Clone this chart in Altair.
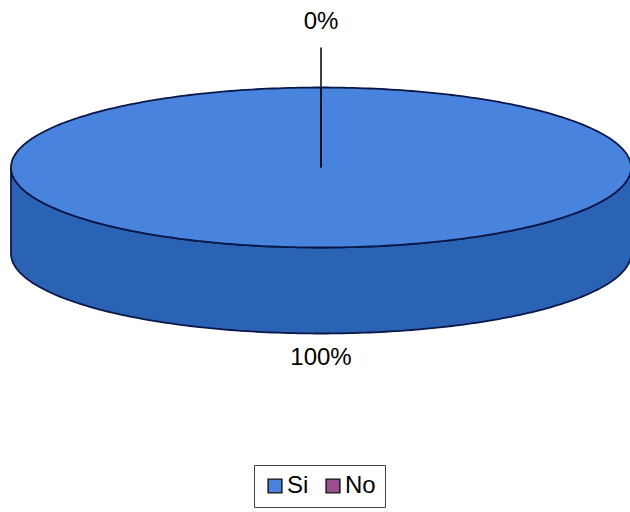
import math
import altair as alt
import pandas as pd

# ---- data ----
categories = ["Si", "No"]
values = [100, 0]
labels = ["100%", "0%"]

# ---- style / layout ----
TOP_COLORS = ["#4884DE", "#9A4E8E"]
SIDE_COLORS = ["#2A63B4", "#6E2E63"]
OUTLINE = "#0A1748"
W, H = 630, 512
CX, CY, RX, RY, DEPTH = 321, 167.5, 310, 80, 86
LABEL_GAP = {"Si": 24, "No": 66}
FONT = "Liberation Sans"

total = sum(values)


def pt(theta_deg, dy=0.0):
    t = math.radians(theta_deg)
    return CX + RX * math.sin(t), CY - RY * math.cos(t) + dy


top_rows, side_rows, label_rows, leader_rows = [], [], [], []
start = 0.0
for cat, val, lab in zip(categories, values, labels):
    span = 360.0 * val / total
    end = start + span
    # top face wedge
    if span > 0:
        o = 0
        top_rows.append(dict(cat=cat, x=CX, y=CY, o=o)); o += 1
        n = max(2, int(span))
        for i in range(n + 1):
            x, y = pt(start + span * i / n)
            top_rows.append(dict(cat=cat, x=x, y=y, o=o)); o += 1
        top_rows.append(dict(cat=cat, x=CX, y=CY, o=o))
    # visible side (front half 90..270)
    s, e = max(start, 90.0), min(end, 270.0)
    if e > s:
        o = 0
        n = max(2, int(e - s))
        for i in range(n + 1):
            x, y = pt(s + (e - s) * i / n)
            side_rows.append(dict(cat=cat, x=x, y=y, o=o)); o += 1
        for i in range(n, -1, -1):
            x, y = pt(s + (e - s) * i / n, DEPTH)
            side_rows.append(dict(cat=cat, x=x, y=y, o=o)); o += 1
        x, y = pt(s)
        side_rows.append(dict(cat=cat, x=x, y=y, o=o))
    # label
    mid = start + span / 2
    gap = LABEL_GAP[cat]
    t = math.radians(mid)
    front = 90 <= (mid % 360) <= 270
    lx = CX + (RX + gap) * math.sin(t)
    ly = CY - (RY + gap) * math.cos(t) + (DEPTH if front else 0)
    label_rows.append(dict(cat=cat, x=lx, y=ly, text=lab))
    if gap > 40:
        leader_rows.append(dict(x=lx, y=ly + 26, x2=CX, y2=CY))
    start = end

top_df = pd.DataFrame(top_rows)
side_df = pd.DataFrame(side_rows)
label_df = pd.DataFrame(label_rows)
leader_df = pd.DataFrame(leader_rows)
legend_df = pd.DataFrame({"cat": categories, "v": values})

xs = alt.Scale(domain=[0, W])
ys = alt.Scale(domain=[H, 0])
X = alt.X("x:Q", scale=xs, axis=None)
Y = alt.Y("y:Q", scale=ys, axis=None)

side = alt.Chart(side_df).mark_line(stroke=OUTLINE, strokeWidth=1.8, interpolate="linear").encode(
    x=X, y=Y, order="o:Q", detail="cat:N",
    fill=alt.Fill("cat:N", scale=alt.Scale(domain=categories, range=SIDE_COLORS), legend=None),
)

top = alt.Chart(top_df).mark_line(stroke=OUTLINE, strokeWidth=1.8, interpolate="linear").encode(
    x=X, y=Y, order="o:Q", detail="cat:N",
    fill=alt.Fill("cat:N", scale=alt.Scale(domain=categories, range=TOP_COLORS), legend=None),
)

leader = alt.Chart(leader_df).mark_rule(color="#111111", strokeWidth=1.6).encode(
    x=X, y=Y, x2="x2:Q", y2="y2:Q"
)

text = alt.Chart(label_df).mark_text(font=FONT, fontSize=24, color="#000000", baseline="middle").encode(
    x=X, y=Y, text="text:N"
)

legend_layer = alt.Chart(legend_df).mark_square(opacity=0, size=0).encode(
    x=alt.X("v:Q", scale=alt.Scale(domain=[0, 100]), axis=None),
    y=alt.value(-100),
    color=alt.Color(
        "cat:N",
        scale=alt.Scale(domain=categories, range=TOP_COLORS),
        legend=alt.Legend(
            title=None,
            orient="none",
            legendX=254,
            legendY=465,
            direction="horizontal",
            symbolType="square",
            symbolSize=190,
            symbolStrokeColor="#111111",
            symbolStrokeWidth=1.4,
            symbolOpacity=1,
            labelFont=FONT,
            labelFontSize=24,
            labelColor="#000000",
            labelOffset=0,
            columnPadding=12,
            padding=9,
            strokeColor="#444444",
            fillColor="#ffffff",
        ),
    ),
)

chart = alt.layer(side, top, leader, text, legend_layer).resolve_scale(
    x="independent", fill="independent"
).properties(
    width=W, height=H, padding=0, autosize=alt.AutoSizeParams(type="none"),
    view=alt.ViewBackground(stroke="transparent", strokeWidth=0),
).configure_view(stroke="transparent", strokeWidth=0).configure(background="#ffffff")

chart.save("out.html", embed_options={"renderer": "svg", "actions": False})
